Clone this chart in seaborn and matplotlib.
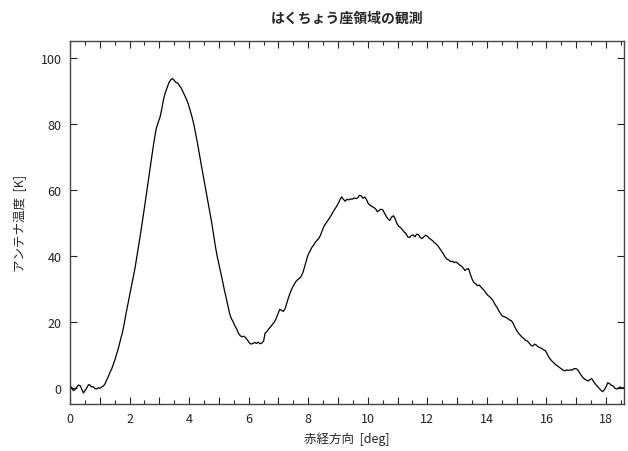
import numpy as np
import pandas as pd
import matplotlib
matplotlib.use("Agg")
import matplotlib.pyplot as plt
from matplotlib.ticker import MultipleLocator, FuncFormatter
import seaborn as sns

title = "はくちょう座領域の観測"
xlabel = "赤経方向  [deg]"
ylabel = "アンテナ温度  [K]"

ra_deg = [
    0.00, 0.05, 0.11, 0.16, 0.22, 0.28, 0.34, 0.40, 0.45, 0.50, 0.56, 0.62, 0.67, 0.72, 0.78, 0.84, 0.90, 0.95,
    1.00, 1.06, 1.12, 1.17, 1.23, 1.28, 1.34, 1.40, 1.46, 1.52, 1.58, 1.64, 1.70, 1.76, 1.82, 1.88, 1.94,
    2.00, 2.06, 2.12, 2.18, 2.24, 2.30, 2.36, 2.42, 2.48, 2.54, 2.60, 2.66, 2.72, 2.78, 2.84, 2.90, 2.96,
    3.02, 3.08, 3.14, 3.20, 3.26, 3.32, 3.38, 3.44, 3.50, 3.56, 3.62, 3.68, 3.74, 3.80, 3.86, 3.92, 3.98,
    4.04, 4.10, 4.16, 4.22, 4.28, 4.34, 4.40, 4.46, 4.52, 4.58, 4.64, 4.70, 4.76, 4.82, 4.88, 4.94,
    5.00, 5.06, 5.12, 5.18, 5.24, 5.30, 5.36, 5.42, 5.48, 5.54, 5.60, 5.66, 5.72, 5.78, 5.84, 5.90, 5.96,
    6.02, 6.08, 6.14, 6.20, 6.26, 6.32, 6.38, 6.44, 6.50, 6.55, 6.62, 6.68, 6.74, 6.80, 6.86, 6.92, 6.98,
    7.04, 7.10, 7.16, 7.22, 7.28, 7.34, 7.40, 7.46, 7.52, 7.58, 7.64, 7.70, 7.76, 7.82, 7.88, 7.94,
    8.00, 8.06, 8.12, 8.18, 8.24, 8.30, 8.36, 8.42, 8.48, 8.54, 8.60, 8.66, 8.72, 8.78, 8.84, 8.90, 8.96,
    9.02, 9.08, 9.12, 9.18, 9.24, 9.30, 9.36, 9.42, 9.48, 9.54, 9.60, 9.66, 9.72, 9.78, 9.84, 9.90, 9.96,
    10.02, 10.08, 10.14, 10.20, 10.26, 10.32, 10.38, 10.44, 10.50, 10.56, 10.62, 10.68, 10.74, 10.80, 10.86, 10.92, 10.98,
    11.04, 11.10, 11.16, 11.22, 11.28, 11.34, 11.40, 11.46, 11.52, 11.58, 11.64, 11.70, 11.76, 11.82, 11.88, 11.94,
    12.00, 12.06, 12.12, 12.18, 12.24, 12.30, 12.36, 12.42, 12.48, 12.54, 12.60, 12.66, 12.72, 12.78, 12.84, 12.90, 12.96,
    13.02, 13.08, 13.14, 13.20, 13.26, 13.32, 13.38, 13.44, 13.50, 13.56, 13.62, 13.68, 13.74, 13.80, 13.86, 13.92, 13.98,
    14.04, 14.10, 14.16, 14.22, 14.28, 14.34, 14.40, 14.46, 14.52, 14.58, 14.64, 14.70, 14.76, 14.82, 14.88, 14.94,
    15.00, 15.06, 15.12, 15.18, 15.24, 15.30, 15.36, 15.42, 15.48, 15.54, 15.60, 15.66, 15.72, 15.78, 15.84, 15.90, 15.96,
    16.02, 16.08, 16.14, 16.20, 16.26, 16.32, 16.38, 16.44, 16.50, 16.56, 16.62, 16.68, 16.74, 16.80, 16.86, 16.92, 16.98,
    17.04, 17.10, 17.16, 17.22, 17.28, 17.34, 17.40, 17.46, 17.52, 17.58, 17.64, 17.70, 17.76, 17.82, 17.88, 17.94,
    18.00, 18.06, 18.12, 18.18, 18.24, 18.30, 18.36, 18.42, 18.48, 18.54, 18.60,
]

antenna_temp = [
    -0.3, 0.3, -0.8, -0.5, 0.2, 0.9, 0.7, -0.5, -1.5, -0.8, 0.0, 1.0, 0.9, 0.3, 0.4, -0.2, -0.3, 0.1,
    -0.1, 0.3, 0.6, 1.2, 2.4, 3.3, 4.7, 5.8, 7.3, 8.9, 10.8, 12.6, 14.8, 16.8, 19.5, 22.5, 25.3,
    28.0, 30.8, 33.5, 36.2, 39.5, 43.0, 46.3, 49.8, 53.5, 57.3, 61.0, 64.8, 68.5, 72.3, 75.8, 78.8, 80.5,
    82.0, 84.5, 87.5, 89.5, 91.0, 92.5, 93.4, 93.8, 93.2, 92.6, 92.4, 91.6, 90.8, 89.6, 88.5, 87.3, 85.8,
    84.0, 82.0, 79.8, 77.0, 74.2, 71.0, 68.0, 65.0, 62.0, 59.0, 56.0, 53.0, 50.0, 46.5, 43.0, 40.0,
    37.5, 35.0, 32.5, 29.8, 27.5, 25.0, 22.5, 21.0, 20.0, 18.8, 17.8, 16.5, 15.8, 15.5, 15.7, 15.2, 14.5,
    13.7, 13.3, 13.5, 13.8, 13.5, 13.9, 13.4, 13.6, 14.2, 16.6, 17.2, 18.0, 18.6, 19.3, 20.0, 21.0, 22.4,
    23.8, 23.6, 23.2, 24.0, 25.8, 27.5, 29.0, 30.3, 31.3, 32.2, 32.8, 33.2, 33.8, 35.0, 36.8, 38.8,
    40.5, 41.5, 42.6, 43.3, 44.2, 44.8, 45.4, 46.5, 48.0, 49.2, 50.0, 50.8, 51.6, 52.5, 53.5, 54.3, 55.2,
    56.2, 57.3, 57.9, 57.2, 56.6, 57.2, 57.0, 57.3, 57.2, 57.6, 57.4, 57.6, 58.4, 58.2, 57.5, 57.9, 57.0,
    55.8, 55.4, 55.0, 54.7, 54.3, 53.4, 53.8, 54.2, 54.0, 53.0, 52.0, 51.2, 50.8, 51.8, 52.2, 51.2, 49.8,
    49.0, 48.6, 48.0, 47.3, 46.8, 45.8, 45.6, 46.2, 46.4, 45.8, 46.6, 46.5, 45.6, 45.3, 45.8, 46.3,
    46.0, 45.4, 45.0, 44.6, 44.0, 43.6, 43.0, 42.2, 41.4, 40.6, 39.6, 39.0, 38.8, 38.3, 38.4, 38.0, 38.2,
    37.8, 37.3, 37.0, 36.4, 35.6, 36.0, 36.2, 34.6, 33.0, 32.0, 31.6, 31.0, 31.2, 30.6, 30.0, 29.4, 28.6,
    28.0, 27.6, 27.0, 26.2, 25.2, 24.4, 23.4, 22.5, 21.8, 21.6, 21.4, 21.0, 20.6, 20.4, 19.6, 18.4,
    17.4, 16.6, 16.0, 15.4, 15.0, 14.4, 14.2, 13.6, 12.9, 12.7, 13.3, 13.0, 12.5, 12.2, 12.0, 11.6, 11.3,
    10.4, 9.3, 8.6, 8.0, 7.5, 7.0, 6.6, 6.2, 5.8, 5.4, 5.2, 5.5, 5.3, 5.5, 5.4, 5.8, 5.9,
    5.6, 4.8, 3.9, 3.2, 2.7, 2.4, 2.1, 2.6, 2.8, 2.0, 1.2, 0.6, 0.0, -0.6, -1.1, -0.6,
    0.4, 1.6, 1.3, 0.8, 0.6, -0.1, -0.3, 0.0, 0.3, -0.1, 0.2,
]

df = pd.DataFrame({"ra": ra_deg, "temp": antenna_temp})

sns.set_style("ticks")
plt.rcParams["font.family"] = ["Noto Sans CJK JP", "DejaVu Sans"]

fig = plt.figure(figsize=(6.28, 4.52), dpi=100)
ax = fig.add_axes([0.1115, 0.104, 0.882, 0.803])

sns.lineplot(data=df, x="ra", y="temp", ax=ax, color="black", linewidth=0.9,
             estimator=None, sort=False)

ax.set_xlim(0, 18.6)
ax.set_ylim(-4.85, 105.15)

ax.xaxis.set_major_locator(MultipleLocator(1))
ax.xaxis.set_minor_locator(MultipleLocator(0.5))
ax.xaxis.set_major_formatter(FuncFormatter(lambda v, p: f"{int(round(v))}" if int(round(v)) % 2 == 0 else ""))
ax.yaxis.set_major_locator(MultipleLocator(20))

ax.tick_params(axis="both", which="major", direction="in", length=5, width=0.8,
               top=True, right=True, labelsize=9, colors="#222222", pad=6)
ax.tick_params(axis="x", which="minor", direction="in", length=3, width=0.8, top=True)
ax.tick_params(axis="y", which="minor", left=False, right=False)

for s in ax.spines.values():
    s.set_color("#444444")
    s.set_linewidth(1.0)

ax.set_xlabel(xlabel, fontsize=9, labelpad=4)
ax.set_ylabel(ylabel, fontsize=9, labelpad=10)
ax.set_title(title, fontsize=10, fontweight="bold", pad=14)

fig.savefig("out.png", dpi=100)
